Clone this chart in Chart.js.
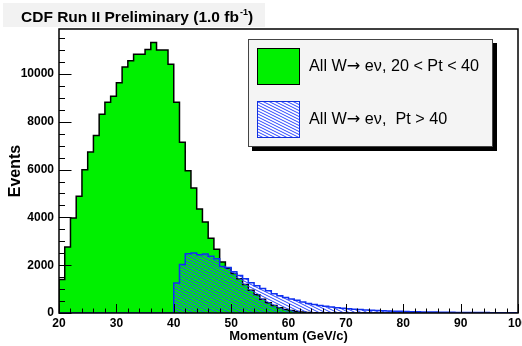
<!DOCTYPE html>
<html lang="en">
<head>
<meta charset="UTF-8">
<title>CDF Run II Preliminary - W momentum</title>
<script src="https://cdn.jsdelivr.net/npm/chart.js"></script>
<style>
  body { margin: 0; background: #fff; }
  #wrap { position: relative; width: 522px; height: 346px; }
</style>
</head>
<body>
<div id="wrap"><canvas id="histChart" width="522" height="346"></canvas></div>
<script>
// histogram: 1 GeV/c bins from 20 to 100
const binLow = 20;
const binHigh = 100;

// All W -> e nu, 20 < Pt < 40
const greenCounts = [
  1400, 2760, 3970, 4880, 5990, 6730, 7430, 8310, 8820, 9070,
  9630, 10290, 10550, 10820, 10820, 11020, 11320, 11000, 11000, 10410,
  8820, 7140, 5950, 5230, 4350, 3810, 3130, 2670, 2130, 1870,
  1650, 1430, 1190, 950, 760, 580, 430, 310, 220, 150,
  100, 65, 40, 25, 15, 10, 6, 4, 2, 1,
  0, 0, 0, 0, 0, 0, 0, 0, 0, 0,
  0, 0, 0, 0, 0, 0, 0, 0, 0, 0,
  0, 0, 0, 0, 0, 0, 0, 0, 0, 0
];

// All W -> e nu, Pt > 40
const blueCounts = [
  0, 0, 0, 0, 0, 0, 0, 0, 0, 0,
  0, 0, 0, 0, 0, 0, 0, 0, 0, 0,
  1250, 2030, 2480, 2510, 2440, 2470, 2370, 2270, 1950, 1900,
  1730, 1570, 1430, 1270, 1140, 1020, 930, 810, 720, 650,
  590, 530, 460, 400, 355, 315, 280, 250, 222, 198,
  178, 160, 144, 130, 117, 105, 95, 86, 78, 70,
  63, 57, 52, 47, 43, 39, 35, 32, 29, 26,
  24, 22, 20, 18, 16, 15, 13, 12, 11, 10
];

const seriesNames = ['All W\u2192 e\u03bd, 20 < Pt < 40', 'All W\u2192 e\u03bd,  Pt > 40'];
const xTickValues = [20, 30, 40, 50, 60, 70, 80, 90, 100];
const yTickValues = [0, 2000, 4000, 6000, 8000, 10000];
const yMax = 11880;

const FONT = "'Liberation Sans', Arial, Helvetica, sans-serif";

// turn bin contents into an outline: edge, bin centres, edge
function histPoints(counts) {
  const pts = [{ x: binLow, y: 0 }, { x: binLow, y: counts[0] }];
  counts.forEach((c, i) => pts.push({ x: binLow + i + 0.5, y: c }));
  pts.push({ x: binHigh, y: counts[counts.length - 1] });
  pts.push({ x: binHigh, y: 0 });
  return pts;
}

function hatchPattern() {
  const c = document.createElement('canvas');
  c.width = 6; c.height = 3;
  const g = c.getContext('2d');
  g.strokeStyle = '#2a45ff';
  g.lineWidth = 1;
  g.beginPath();
  [-3, 0, 3].forEach(dy => { g.moveTo(0, dy); g.lineTo(6, dy + 3); });
  g.stroke();
  return g.createPattern(c, 'repeat');
}
const hatch = hatchPattern();

// legend text, with the arrow taken from DejaVu so it is full size
function drawLabel(ctx, text, x, y, size) {
  const parts = text.split('\u2192');
  ctx.font = size + 'px ' + FONT;
  ctx.fillText(parts[0], x, y);
  x += ctx.measureText(parts[0]).width;
  ctx.font = size + "px 'DejaVu Sans'";
  ctx.fillText('\u2192', x, y);
  x += ctx.measureText('\u2192').width;
  ctx.font = size + 'px ' + FONT;
  ctx.fillText(parts[1], x, y);
}

// frame, inward ticks, legend box and the title
const decorations = {
  id: 'decorations',
  afterDatasetsDraw(chart) {
    const ctx = chart.ctx, a = chart.chartArea;
    const xs = chart.scales.x, ys = chart.scales.y;
    ctx.save();
    ctx.strokeStyle = '#000';
    ctx.lineWidth = 1;
    ctx.beginPath();
    for (let v = binLow; v <= binHigh; v += 2) {
      const px = Math.round(xs.getPixelForValue(v)) + 0.5;
      const len = xTickValues.includes(v) ? 9 : 4.5;
      ctx.moveTo(px, a.bottom);
      ctx.lineTo(px, a.bottom - len);
    }
    for (let v = 0; v <= yMax; v += 500) {
      const py = Math.round(ys.getPixelForValue(v)) + 0.5;
      const len = v % 2000 === 0 ? 12.5 : 6;
      ctx.moveTo(a.left, py);
      ctx.lineTo(a.left + len, py);
    }
    ctx.stroke();
    ctx.lineWidth = 1.5;
    ctx.strokeRect(a.left, a.top, a.right - a.left, a.bottom - a.top);
    ctx.restore();
  },
  afterDraw(chart) {
    const ctx = chart.ctx;
    ctx.save();
    // title box
    ctx.fillStyle = '#f2f2f2';
    ctx.fillRect(3, 3, 262, 24);
    ctx.fillStyle = '#000';
    ctx.textBaseline = 'alphabetic';
    const main = 'CDF Run II Preliminary (1.0 fb';
    ctx.font = 'bold 15.5px ' + FONT;
    ctx.fillText(main, 21, 22);
    let x = 21 + ctx.measureText(main).width + 1;
    ctx.font = 'bold 9px ' + FONT;
    ctx.fillText('-1', x, 15);
    x += ctx.measureText('-1').width;
    ctx.font = 'bold 15.5px ' + FONT;
    ctx.fillText(')', x, 22);

    // legend box with shadow
    ctx.fillStyle = '#000';
    ctx.fillRect(252, 43, 245, 108);
    ctx.fillStyle = '#f4f4f4';
    ctx.fillRect(248, 39, 245, 108);
    ctx.strokeStyle = '#444';
    ctx.lineWidth = 1;
    ctx.strokeRect(248.5, 39.5, 244, 107);

    ctx.fillStyle = '#00f000';
    ctx.fillRect(257, 48, 43, 37);
    ctx.strokeStyle = '#000';
    ctx.strokeRect(257.5, 48.5, 42, 36);

    ctx.fillStyle = '#fff';
    ctx.fillRect(257, 101, 43, 37);
    ctx.fillStyle = hatch;
    ctx.fillRect(257, 101, 43, 37);
    ctx.strokeStyle = '#1030e0';
    ctx.strokeRect(257.5, 101.5, 42, 36);

    ctx.fillStyle = '#000';
    ctx.textBaseline = 'middle';
    drawLabel(ctx, seriesNames[0], 309, 67, 16.2);
    drawLabel(ctx, seriesNames[1], 309, 120, 16.2);
    ctx.restore();
  }
};

new Chart(document.getElementById('histChart'), {
  type: 'line',
  data: {
    datasets: [
      {
        label: seriesNames[1],
        data: histPoints(blueCounts),
        stepped: 'middle',
        borderColor: '#1030f0',
        borderWidth: 1.5,
        backgroundColor: hatch,
        fill: 'origin',
        pointRadius: 0,
        order: 1
      },
      {
        label: seriesNames[0],
        data: histPoints(greenCounts),
        stepped: 'middle',
        borderColor: '#000',
        borderWidth: 1.5,
        backgroundColor: '#00f000',
        fill: 'origin',
        pointRadius: 0,
        order: 2
      }
    ]
  },
  options: {
    responsive: false,
    animation: false,
    layout: { padding: { top: 29, right: 4, left: 0, bottom: 0 } },
    plugins: {
      legend: { display: false },
      tooltip: { enabled: false },
      title: { display: false }
    },
    scales: {
      x: {
        type: 'linear',
        min: binLow,
        max: binHigh,
        afterBuildTicks: s => { s.ticks = xTickValues.map(v => ({ value: v })); },
        afterFit: s => { s.height = 33; s.paddingLeft = 0; s.paddingRight = 0; },
        grid: { display: false, drawTicks: false },
        border: { display: false },
        ticks: { color: '#000', padding: 3, maxRotation: 0, autoSkip: false, font: { family: FONT, size: 12, weight: 'bold' } },
        title: { display: true, text: 'Momentum (GeV/c)', color: '#000', padding: { top: 0, bottom: 2 }, font: { family: FONT, size: 13, weight: 'bold' } }
      },
      y: {
        min: 0,
        max: yMax,
        afterBuildTicks: s => { s.ticks = yTickValues.map(v => ({ value: v })); },
        afterFit: s => { s.width = 59; },
        grid: { display: false, drawTicks: false },
        border: { display: false },
        ticks: { color: '#000', padding: 5, callback: v => String(v), font: { family: FONT, size: 12, weight: 'bold' } },
        title: { display: true, text: 'Events', color: '#000', padding: { top: 6, bottom: 0 }, font: { family: FONT, size: 16, weight: 'bold' } }
      }
    }
  },
  plugins: [decorations]
});
</script>
</body>
</html>
